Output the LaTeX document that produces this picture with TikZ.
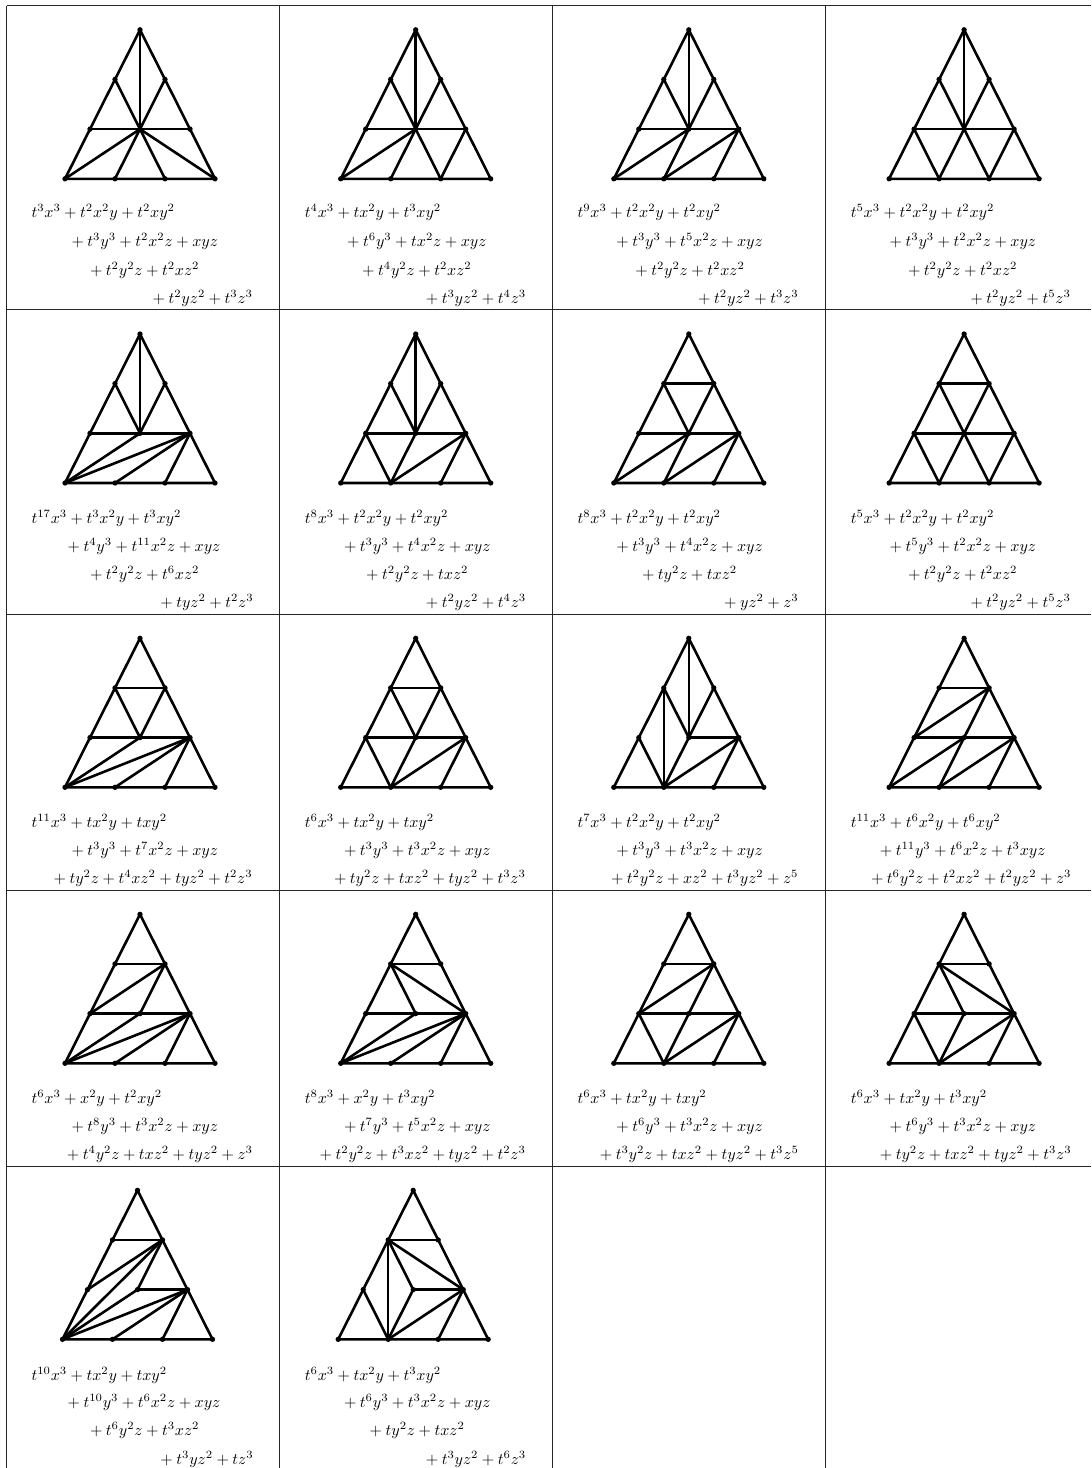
\documentclass[tikz,border=0pt]{standalone}
\tikzset{
  vdot/.style={circle,fill=black,draw=none,inner sep=0pt,minimum size=3.5pt},
  edge/.style={line width=1.7pt,line cap=round,line join=round,black},
  rule/.style={line width=0.65pt,black!85},
  poly/.style={anchor=base west,inner sep=0pt,outer sep=0pt,scale=1.05}
}
\newcommand{\pl}{\mathord{+}\mskip\medmuskip}
\newcommand{\cellfig}[4]{%
  \node[vdot] (#1-a) at ({#2},{#3-149}) {};
  \node[vdot] (#1-b) at ({#2-25},{#3-99.4}) {};
  \node[vdot] (#1-c) at ({#2+25},{#3-99.4}) {};
  \node[vdot] (#1-d) at ({#2-50},{#3-49.7}) {};
  \node[vdot] (#1-e) at ({#2},{#3-49.7}) {};
  \node[vdot] (#1-f) at ({#2+50},{#3-49.7}) {};
  \node[vdot] (#1-g) at ({#2-75},{#3}) {};
  \node[vdot] (#1-h) at ({#2-25},{#3}) {};
  \node[vdot] (#1-i) at ({#2+25},{#3}) {};
  \node[vdot] (#1-j) at ({#2+75},{#3}) {};
  \draw[edge] (#1-a.center)--(#1-g.center)--(#1-j.center)--cycle;
  \foreach \u/\v in {#4} \draw[edge] (#1-\u.center)--(#1-\v.center);
}
\newcommand{\eqline}[4]{\node[poly] (#1) at (#2,#3) {$#4$};}
\begin{document}
\begin{tikzpicture}[x=0.658pt,y=-0.658pt]
\useasboundingbox (0,0) rectangle (1091,1468);
% table rules
\foreach \n/\y in {r0/5.7,r1/309.7,r2/614.3,r3/890,r4/1166.7}{
  \coordinate (\n a) at (6.5,\y); \coordinate (\n b) at (1091,\y);
  \draw[rule] (\n a)--(\n b);
}
\foreach \n/\x in {c0/6.5,c1/279.3,c2/552.5,c3/825}{
  \coordinate (\n a) at (\x,5.7); \coordinate (\n b) at (\x,1468);
  \draw[rule] (\n a)--(\n b);
}
% row 1
\cellfig{A1}{140}{178.8}{a/e,b/e,c/e,d/f,g/e,h/e,i/e,j/e}
\cellfig{A2}{415.7}{178.8}{a/e,b/e,c/e,d/f,g/e,h/e,i/e,i/f}
\cellfig{A3}{688.8}{178.8}{a/e,b/e,c/e,d/f,g/e,h/e,h/f,i/f}
\cellfig{A4}{964.1}{178.8}{a/e,b/e,c/e,d/f,d/h,h/e,e/i,i/f}
% row 2
\cellfig{B1}{140}{483}{a/e,b/e,c/e,d/f,g/e,g/f,h/f,i/f}
\cellfig{B2}{415.7}{483}{a/e,b/e,c/e,d/f,d/h,h/e,h/f,i/f}
\cellfig{B3}{688.8}{483}{b/c,b/e,c/e,d/f,g/e,h/e,h/f,i/f}
\cellfig{B4}{964.1}{483}{b/c,b/e,c/e,d/f,d/h,h/e,e/i,i/f}
% row 3
\cellfig{C1}{140}{787.3}{b/c,b/e,c/e,d/f,g/e,g/f,h/f,i/f}
\cellfig{C2}{415.7}{787.3}{b/c,b/e,c/e,d/f,d/h,h/e,h/f,i/f}
\cellfig{C3}{688.8}{787.3}{a/e,b/e,c/e,e/f,b/h,d/h,e/h,h/f,i/f}
\cellfig{C4}{964.1}{787.3}{b/c,d/c,e/c,d/f,g/e,h/e,h/f,i/f}
% row 4
\cellfig{D1}{140}{1063.3}{b/c,d/c,e/c,d/f,g/e,g/f,h/f,i/f}
\cellfig{D2}{415.7}{1063.3}{b/c,b/e,b/f,d/f,g/e,g/f,h/f,i/f}
\cellfig{D3}{688.8}{1063.3}{b/c,d/c,e/c,d/f,d/h,h/e,h/f,i/f}
\cellfig{D4}{964.1}{1063.3}{b/c,b/e,b/f,d/f,d/h,h/e,h/f,i/f}
% row 5
\cellfig{E1}{137.5}{1339.3}{b/c,d/c,g/c,e/c,e/f,g/e,g/f,h/f,i/f}
\cellfig{E2}{413.2}{1339.3}{b/c,b/h,b/e,b/f,e/f,d/h,h/e,h/f,i/f}
% row 1 text
\eqline{pA1a}{31.5}{217.7}{t^3x^3+t^2x^2y+t^2xy^2}
\eqline{pA1b}{71.5}{246.7}{\pl t^3y^3+t^2x^2z+xyz}
\eqline{pA1c}{90}{275.3}{\pl t^2y^2z+t^2xz^2}
\eqline{pA1d}{152.6}{303.3}{\pl t^2yz^2+t^3z^3}
\eqline{pA2a}{304.9}{217.7}{t^4x^3+tx^2y+t^3xy^2}
\eqline{pA2b}{347.2}{246.7}{\pl t^6y^3+tx^2z+xyz}
\eqline{pA2c}{362.2}{275.3}{\pl t^4y^2z+t^2xz^2}
\eqline{pA2d}{425.8}{303.3}{\pl t^3yz^2+t^4z^3}
\eqline{pA3a}{577.5}{217.7}{t^9x^3+t^2x^2y+t^2xy^2}
\eqline{pA3b}{616.3}{246.7}{\pl t^3y^3+t^5x^2z+xyz}
\eqline{pA3c}{635.3}{275.3}{\pl t^2y^2z+t^2xz^2}
\eqline{pA3d}{698.2}{303.3}{\pl t^2yz^2+t^3z^3}
\eqline{pA4a}{850.8}{217.7}{t^5x^3+t^2x^2y+t^2xy^2}
\eqline{pA4b}{889.7}{246.7}{\pl t^3y^3+t^2x^2z+xyz}
\eqline{pA4c}{908}{275.3}{\pl t^2y^2z+t^2xz^2}
\eqline{pA4d}{970.5}{303.3}{\pl t^2yz^2+t^5z^3}
% row 2 text
\eqline{pB1a}{31.5}{523.3}{t^{17}x^3+t^3x^2y+t^3xy^2}
\eqline{pB1b}{67.6}{551.7}{\pl t^4y^3+t^{11}x^2z+xyz}
\eqline{pB1c}{90}{579.3}{\pl t^2y^2z+t^6xz^2}
\eqline{pB1d}{160.4}{607.7}{\pl tyz^2+t^2z^3}
\eqline{pB2a}{304.9}{523.3}{t^8x^3+t^2x^2y+t^2xy^2}
\eqline{pB2b}{344}{551.7}{\pl t^3y^3+t^4x^2z+xyz}
\eqline{pB2c}{366.1}{579.3}{\pl t^2y^2z+txz^2}
\eqline{pB2d}{425.8}{607.7}{\pl t^2yz^2+t^4z^3}
\eqline{pB3a}{577.5}{523.3}{t^8x^3+t^2x^2y+t^2xy^2}
\eqline{pB3b}{616.3}{551.7}{\pl t^3y^3+t^4x^2z+xyz}
\eqline{pB3c}{642}{579.3}{\pl ty^2z+txz^2}
\eqline{pB3d}{724.2}{607.7}{\pl yz^2+z^3}
\eqline{pB4a}{850.8}{523.3}{t^5x^3+t^2x^2y+t^2xy^2}
\eqline{pB4b}{889.7}{551.7}{\pl t^5y^3+t^2x^2z+xyz}
\eqline{pB4c}{908}{579.3}{\pl t^2y^2z+t^2xz^2}
\eqline{pB4d}{970.5}{607.7}{\pl t^2yz^2+t^5z^3}
% row 3 text
\eqline{pC1a}{31.5}{827.3}{t^{11}x^3+tx^2y+txy^2}
\eqline{pC1b}{71.5}{855.7}{\pl t^3y^3+t^7x^2z+xyz}
\eqline{pC1c}{53.6}{883.3}{\pl ty^2z+t^4xz^2+tyz^2+t^2z^3}
\eqline{pC2a}{304.9}{827.3}{t^6x^3+tx^2y+txy^2}
\eqline{pC2b}{344}{855.7}{\pl t^3y^3+t^3x^2z+xyz}
\eqline{pC2c}{334}{883.3}{\pl ty^2z+txz^2+tyz^2+t^3z^3}
\eqline{pC3a}{577.5}{827.3}{t^7x^3+t^2x^2y+t^2xy^2}
\eqline{pC3b}{616.3}{855.7}{\pl t^3y^3+t^3x^2z+xyz}
\eqline{pC3c}{611}{883.3}{\pl t^2y^2z+xz^2+t^3yz^2+z^5}
\eqline{pC4a}{850.8}{827.3}{t^{11}x^3+t^6x^2y+t^6xy^2}
\eqline{pC4b}{879.8}{855.7}{\pl t^{11}y^3+t^6x^2z+t^3xyz}
\eqline{pC4c}{871}{883.3}{\pl t^6y^2z+t^2xz^2+t^2yz^2+z^3}
% row 4 text
\eqline{pD1a}{31.5}{1103.3}{t^6x^3+x^2y+t^2xy^2}
\eqline{pD1b}{71.5}{1131.7}{\pl t^8y^3+t^3x^2z+xyz}
\eqline{pD1c}{66.9}{1159.3}{\pl t^4y^2z+txz^2+tyz^2+z^3}
\eqline{pD2a}{304.9}{1103.3}{t^8x^3+x^2y+t^3xy^2}
\eqline{pD2b}{344}{1131.7}{\pl t^7y^3+t^5x^2z+xyz}
\eqline{pD2c}{319.7}{1159.3}{\pl t^2y^2z+t^3xz^2+tyz^2+t^2z^3}
\eqline{pD3a}{577.5}{1103.3}{t^6x^3+tx^2y+txy^2}
\eqline{pD3b}{616.3}{1131.7}{\pl t^6y^3+t^3x^2z+xyz}
\eqline{pD3c}{599.8}{1159.3}{\pl t^3y^2z+txz^2+tyz^2+t^3z^5}
\eqline{pD4a}{850.8}{1103.3}{t^6x^3+tx^2y+t^3xy^2}
\eqline{pD4b}{889.7}{1131.7}{\pl t^6y^3+t^3x^2z+xyz}
\eqline{pD4c}{879.8}{1159.3}{\pl ty^2z+txz^2+tyz^2+t^3z^3}
% row 5 text
\eqline{pE1a}{31.5}{1380}{t^{10}x^3+tx^2y+txy^2}
\eqline{pE1b}{67.6}{1407.7}{\pl t^{10}y^3+t^6x^2z+xyz}
\eqline{pE1c}{90}{1435.3}{\pl t^6y^2z+t^3xz^2}
\eqline{pE1d}{160.4}{1464}{\pl t^3yz^2+tz^3}
\eqline{pE2a}{304.9}{1380}{t^6x^3+tx^2y+t^3xy^2}
\eqline{pE2b}{344}{1407.7}{\pl t^6y^3+t^3x^2z+xyz}
\eqline{pE2c}{369.7}{1435.3}{\pl ty^2z+txz^2}
\eqline{pE2d}{425.8}{1464}{\pl t^3yz^2+t^6z^3}
\end{tikzpicture}
\end{document}
